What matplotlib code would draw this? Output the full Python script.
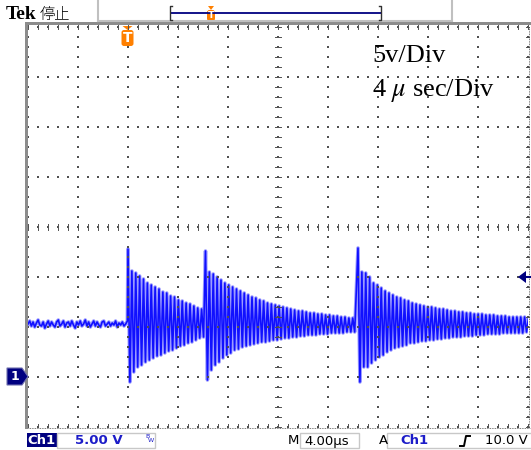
import numpy as np
import matplotlib
matplotlib.use("Agg")
import matplotlib.pyplot as plt
from matplotlib.patches import Polygon, Rectangle, FancyBboxPatch

# ---------------- data (read from the screen) ----------------
# pre-trigger baseline samples (V), from -8 us up to the trigger
baseline_v = [5.3, 5.6, 5.1, 5.5, 5.0, 5.4, 5.7, 5.2, 5.1, 5.5, 4.9, 5.3, 5.6, 5.1,
              5.5, 5.2, 5.0, 5.5, 5.7, 5.1, 5.3, 5.6, 5.0, 5.4, 5.5, 5.1, 5.6, 5.2,
              4.9, 5.5, 5.2, 5.6, 5.1, 5.3, 5.7, 5.1, 5.5, 5.0, 5.3, 5.6, 5.1, 5.5,
              5.2, 5.0, 5.5, 5.6, 5.1, 5.3, 5.5, 5.1, 5.4, 5.2, 5.6, 5.0, 5.4, 5.2,
              5.5, 5.1, 5.3, 5.6]
burst_starts_us = [0.0, 6.2, 18.4]
ring_period_us = 0.31
burst1_peaks = [12.8, 10.6, 10.4, 10.1, 9.8, 9.4, 9.2, 9.0, 8.8, 8.5, 8.4, 8.1, 8.0,
                7.7, 7.6, 7.4, 7.3, 7.1, 6.9, 6.8]
burst1_troughs = [-0.5, 0.5, 1.0, 1.2, 1.5, 1.7, 1.9, 2.1, 2.2, 2.4, 2.6, 2.7, 2.9,
                  3.1, 3.2, 3.4, 3.5, 3.7, 3.9, 4.0]
burst2_peaks = [12.6, 10.5, 10.3, 10.0, 9.7, 9.4, 9.2, 9.0, 8.8, 8.6, 8.4, 8.2, 8.0,
                7.9, 7.7, 7.6, 7.4, 7.3, 7.2, 7.1, 7.0, 6.9, 6.8, 6.7, 6.6, 6.6, 6.5,
                6.4, 6.4, 6.3, 6.3, 6.2, 6.2, 6.1, 6.1, 6.0, 6.0, 5.9, 5.9]
burst2_troughs = [-0.3, 0.7, 1.2, 1.5, 1.9, 2.2, 2.4, 2.7, 2.8, 3.0, 3.1, 3.2, 3.3,
                  3.4, 3.5, 3.5, 3.6, 3.7, 3.7, 3.8, 3.9, 3.9, 4.0, 4.0, 4.1, 4.1,
                  4.2, 4.2, 4.2, 4.3, 4.3, 4.3, 4.4, 4.4, 4.4, 4.4, 4.5, 4.5, 4.5]
burst3_peaks = [12.9, 10.5, 10.4, 10.0, 9.4, 9.2, 8.9, 8.6, 8.4, 8.2, 8.0, 7.9, 7.7,
                7.6, 7.4, 7.3, 7.2, 7.1, 7.0, 7.0, 6.9, 6.8, 6.8, 6.7, 6.6, 6.6, 6.5,
                6.5, 6.4, 6.4, 6.3, 6.3, 6.3, 6.2, 6.2, 6.2, 6.1, 6.1, 6.1, 6.0, 6.0,
                6.0, 6.0, 6.0, 5.9]
burst3_troughs = [-0.5, 1.0, 1.0, 1.4, 1.7, 2.0, 2.2, 2.5, 2.7, 2.9, 3.0, 3.1, 3.2,
                  3.4, 3.4, 3.5, 3.6, 3.6, 3.7, 3.7, 3.8, 3.8, 3.9, 3.9, 4.0, 4.0,
                  4.0, 4.1, 4.1, 4.1, 4.2, 4.2, 4.2, 4.3, 4.3, 4.3, 4.3, 4.4, 4.4,
                  4.4, 4.4, 4.4, 4.4, 4.5, 4.5]
t_range_us = (-8, 32)      # 4 us/div, 10 div
v_range = (-5, 35)         # 5 V/div, 8 div, ground 3 div below centre
trigger_level_v = 10.0
label_volts = "5v/Div"
label_time = r"4 $\mu$ sec/Div"

# ---------------- build trace ----------------
t = list(np.linspace(t_range_us[0], -0.05, len(baseline_v)))
v = list(baseline_v)
for start, pk, tr in zip(burst_starts_us,
                         [burst1_peaks, burst2_peaks, burst3_peaks],
                         [burst1_troughs, burst2_troughs, burst3_troughs]):
    for i in range(len(pk)):
        t.append(start + i * ring_period_us)
        v.append(pk[i])
        t.append(start + (i + 0.5) * ring_period_us)
        v.append(tr[i])

W, H = 531, 450
fig = plt.figure(figsize=(W / 100, H / 100), dpi=100)
fig.patch.set_facecolor("white")
plt.rcParams["mathtext.fontset"] = "stix"

GX0, GX1, GY0, GY1 = 28, 528, 27, 427
ax = fig.add_axes([GX0 / W, (H - GY1) / H, (GX1 - GX0) / W, (GY1 - GY0) / H])
ax.set_xlim(*t_range_us)
ax.set_ylim(*v_range)
ax.axis("off")
ax.plot(t, v, color="#9c9cff", lw=2.6, zorder=3)
ax.plot(t, v, color="#1010ff", lw=1.2, zorder=4)

# overlay in pixel coordinates
ov = fig.add_axes([0, 0, 1, 1], zorder=5)
ov.set_xlim(0, W)
ov.set_ylim(H, 0)
ov.axis("off")
ov.patch.set_alpha(0)

gc = "#505050"
# graticule dots
dx, dy = [], []
for k in range(11):
    x = GX0 + 50 * k
    for y in range(GY0, GY1 + 1, 10):
        dx.append(x); dy.append(y)
for j in range(9):
    y = GY0 + 50 * j
    for x in range(GX0, GX1 + 1, 10):
        dx.append(x); dy.append(y)
ov.scatter(dx, dy, s=0.6, marker="s", color=gc, linewidths=0, zorder=1)
# center crosshair
cx, cy = 278, 227
ov.scatter([cx] * 200, np.arange(GY0, GY1, 2), s=0.5, marker="s", color=gc, linewidths=0)
ov.scatter(np.arange(GX0, GX1, 2), [cy] * 250, s=0.5, marker="s", color=gc, linewidths=0)
for y in range(GY0, GY1 + 1, 10):
    ov.plot([cx - 3, cx + 3], [y, y], color=gc, lw=0.7)
for x in range(GX0, GX1 + 1, 10):
    ov.plot([x, x], [cy - 3, cy + 3], color=gc, lw=0.7)
# edges
for x in range(GX0, GX1 + 1, 10):
    ov.plot([x, x], [GY0 - 2, GY0 + 2], color=gc, lw=0.7)
    ov.plot([x, x], [GY1 - 3, GY1], color=gc, lw=0.7)
for y in range(GY0, GY1 + 1, 10):
    ov.plot([GX1 - 2, GX1 + 1], [y, y], color=gc, lw=0.7)
ov.plot([GX0, GX1 + 2], [GY1 + 0.5, GY1 + 0.5], color=gc, lw=0.6, ls=(0, (1, 1)))
ov.plot([GX1 + 1, GX1 + 1], [GY0, GY1], color=gc, lw=0.6, ls=(0, (1, 1)))

# frame
ov.add_patch(Rectangle((25, 21.5), W - 25, 3, color="#8c8c8c", lw=0))
ov.add_patch(Rectangle((25, 21.5), 3, GY1 - 21.5 + 2, color="#8c8c8c", lw=0))

# top bar
ov.text(6, 19, "Tek", fontsize=14, fontweight="bold", family="Liberation Serif",
        color="black", va="baseline", ha="left")
ov.text(40, 19, "停止", fontsize=11, family=["Noto Sans CJK JP", "DejaVu Sans"],
        fontweight="light", color="black", va="baseline", ha="left")
lg = "#c0c0c0"
ov.plot([98, 98], [0, 21], color=lg, lw=1.5)
ov.plot([452, 452], [0, 21], color=lg, lw=1.5)
ov.plot([98, 452], [20.5, 20.5], color=lg, lw=1.5)
navy = "#000080"
ov.plot([171, 381], [13, 13], color=navy, lw=1.3)
ov.plot([172, 170, 170, 172], [6, 6, 20, 20], color="#303030", lw=1.0)
ov.plot([379, 381, 381, 379], [6, 6, 20, 20], color="#303030", lw=1.0)

orange = "#ff8000"


def trig_marker(xc, ytop, w, h):
    ov.add_patch(Polygon([[xc - w / 2 + 1, ytop], [xc + w / 2 - 1, ytop], [xc, ytop + 4]],
                         closed=True, color=orange, lw=0))
    ov.add_patch(FancyBboxPatch((xc - w / 2, ytop + 4), w, h, boxstyle="round,pad=0,rounding_size=2.5",
                                color=orange, lw=0))
    ov.text(xc, ytop + 4 + h / 2 + 0.5, "T", fontsize=h * 0.62, fontweight="bold",
            family="DejaVu Sans", color="white", ha="center", va="center")


trig_marker(211, 6, 8, 11)
trig_marker(127.5, 26, 12, 16)

# ground marker "1"
ov.add_patch(Polygon([[7, 368], [22, 368], [28, 376.5], [22, 385], [7, 385]], closed=True,
                     facecolor=navy, edgecolor="#7070b0", lw=0.8))
ov.text(15, 377, "1", fontsize=9, fontweight="bold", family="DejaVu Sans", color="white",
        ha="center", va="center")
# trigger level arrow (right)
ty = 377 - trigger_level_v * 10
ov.add_patch(Polygon([[518, ty], [526, ty - 6], [526, ty + 6]], closed=True, color=navy, lw=0))
ov.plot([524, W], [ty, ty], color=navy, lw=1.5)

# scale labels
ov.text(372, 62, label_volts, fontsize=19, family="Liberation Serif", color="black",
        va="baseline", ha="left")
ov.text(372, 96, label_time, fontsize=19, family="Liberation Serif", color="black",
        va="baseline", ha="left")

# bottom status bar
blue = "#1c1cc8"
fs = 9.5
ov.add_patch(Rectangle((26.5, 433), 30.5, 14, color=navy, lw=0))
ov.text(41.8, 440.5, "Ch1", fontsize=fs, fontweight="bold", family="DejaVu Sans",
        color="white", ha="center", va="center")
ov.add_patch(Rectangle((57, 432.5), 98, 15, fill=False, edgecolor="#c8c8c8", lw=1))
ov.text(75, 441, "5.00 V", fontsize=fs, family="DejaVu Sans", color=blue,
        ha="left", va="center", fontweight="bold")
ov.text(145, 436, "B", fontsize=4.5, family="DejaVu Sans", color=blue, ha="left", va="center")
ov.text(148, 440, "W", fontsize=4.5, family="DejaVu Sans", color=blue, ha="left", va="center")
ov.text(288, 441, "M", fontsize=fs, family="DejaVu Sans", color="black", ha="left", va="center")
ov.add_patch(Rectangle((300, 432.5), 59, 15, fill=False, edgecolor="#c8c8c8", lw=1))
ov.text(304, 441, "4.00μs", fontsize=fs, family="DejaVu Sans", color="black",
        ha="left", va="center")
ov.text(379, 441, "A", fontsize=fs, family="DejaVu Sans", color="black", ha="left", va="center")
ov.add_patch(Rectangle((387, 432.5), 150, 15, fill=False, edgecolor="#c8c8c8", lw=1))
ov.text(400, 441, "Ch1", fontsize=fs, family="DejaVu Sans", color=blue, ha="left",
        va="center", fontweight="bold")
ov.plot([460, 464, 466, 470], [446, 446, 436, 436], color="black", lw=1.4)
ov.text(528, 441, "10.0 V", fontsize=fs, family="DejaVu Sans", color="black",
        ha="right", va="center")

fig.savefig("out.png", dpi=100)
